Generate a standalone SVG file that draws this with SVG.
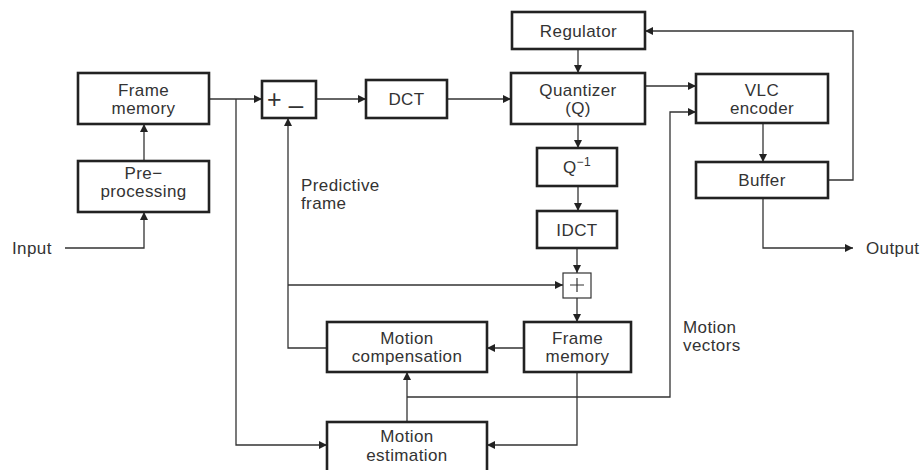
<svg xmlns="http://www.w3.org/2000/svg" width="922" height="470" viewBox="0 0 922 470">
<defs>
<marker id="arr" viewBox="0 0 10 10" refX="10" refY="5" markerWidth="9" markerHeight="8" markerUnits="userSpaceOnUse" orient="auto">
<path d="M0,0 L10,5 L0,10 Z" fill="#222"/>
</marker>
</defs>
<style>
.box{fill:#fff;stroke:#222;stroke-width:2.6}
.thin{fill:#fff;stroke:#333;stroke-width:1.2}
.t{font-family:"Liberation Sans",Arial,sans-serif;font-size:17px;letter-spacing:0.4px;fill:#333;text-anchor:middle}
.l{font-family:"Liberation Sans",Arial,sans-serif;font-size:17px;letter-spacing:0.4px;fill:#333}
.c{fill:none;stroke:#333;stroke-width:1.3}
.a{marker-end:url(#arr)}
</style>
<rect width="922" height="470" fill="#fff"/>
<g id="connectors">
<path class="c a" d="M65,248 H144 V212"/>
<path class="c a" d="M144,161 V124"/>
<path class="c a" d="M209,99 H262"/>
<path class="c a" d="M236,99 V445 H327"/>
<path class="c a" d="M316,99 H366"/>
<path class="c a" d="M447,99 H511"/>
<path class="c a" d="M578,49 V73"/>
<path class="c a" d="M578,124 V148"/>
<path class="c a" d="M578,186 V211"/>
<path class="c a" d="M577,248 V273"/>
<path class="c a" d="M577,298 V322"/>
<path class="c a" d="M524,348 H487"/>
<path class="c a" d="M327,348 H288 V118"/>
<path class="c a" d="M288,285 H563"/>
<path class="c a" d="M407,422 V372"/>
<path class="c a" d="M407,397 H670 V112 H696"/>
<path class="c a" d="M577,372 V445 H487"/>
<path class="c a" d="M645,86 H696"/>
<path class="c a" d="M763,123 V162"/>
<path class="c a" d="M828,180 H853 V31 H645"/>
<path class="c a" d="M763,198 V248 H853"/>
</g>
<g id="input"><text class="l" x="12" y="254">Input</text></g>
<g id="output"><text class="l" x="866" y="254">Output</text></g>
<g id="predictive-label"><text class="l" x="301" y="191">Predictive</text><text class="l" x="301" y="209">frame</text></g>
<g id="mv-label"><text class="l" x="683" y="333">Motion</text><text class="l" x="683" y="351">vectors</text></g>
<g id="frame-memory-1"><rect class="box" x="78" y="73" width="131" height="51"/><text class="t" x="143.5" y="96">Frame</text><text class="t" x="143.5" y="114">memory</text></g>
<g id="preprocessing"><rect class="box" x="78" y="161" width="131" height="51"/><text class="t" x="143.5" y="179">Pre−</text><text class="t" x="143.5" y="197">processing</text></g>
<g id="subtractor"><rect class="box" x="262" y="81" width="54" height="37"/><text x="267" y="108" style="font-family:'Liberation Sans',Arial,sans-serif;font-size:25px;fill:#333">+</text><text x="289" y="103" style="font-family:'Liberation Sans',Arial,sans-serif;font-size:25px;fill:#333">_</text></g>
<g id="dct"><rect class="box" x="366" y="80" width="81" height="38"/><text class="t" x="406.5" y="105">DCT</text></g>
<g id="regulator"><rect class="box" x="512" y="12" width="133" height="37"/><text class="t" x="578.5" y="36.5">Regulator</text></g>
<g id="quantizer"><rect class="box" x="511" y="73" width="134" height="51"/><text class="t" x="578" y="96">Quantizer</text><text class="t" x="578" y="114">(Q)</text></g>
<g id="inverse-q"><rect class="box" x="537" y="148" width="80" height="38"/><text class="t" x="577" y="173">Q<tspan dy="-7" style="font-size:12px">−1</tspan></text></g>
<g id="idct"><rect class="box" x="537" y="211" width="80" height="37"/><text class="t" x="577" y="235.5">IDCT</text></g>
<g id="adder"><rect class="thin" x="563" y="273" width="28" height="25"/><path d="M577,278 V292 M570,285 H584" stroke="#333" stroke-width="1.2"/></g>
<g id="frame-memory-2"><rect class="box" x="524" y="322" width="107" height="50"/><text class="t" x="577.5" y="344">Frame</text><text class="t" x="577.5" y="362">memory</text></g>
<g id="motion-compensation"><rect class="box" x="327" y="322" width="160" height="50"/><text class="t" x="407" y="344">Motion</text><text class="t" x="407" y="362">compensation</text></g>
<g id="motion-estimation"><rect class="box" x="327" y="422" width="160" height="52"/><text class="t" x="407" y="442">Motion</text><text class="t" x="407" y="461">estimation</text></g>
<g id="vlc-encoder"><rect class="box" x="696" y="74" width="132" height="49"/><text class="t" x="762" y="96">VLC</text><text class="t" x="762" y="114">encoder</text></g>
<g id="buffer"><rect class="box" x="696" y="162" width="132" height="36"/><text class="t" x="762" y="186">Buffer</text></g>
</svg>
